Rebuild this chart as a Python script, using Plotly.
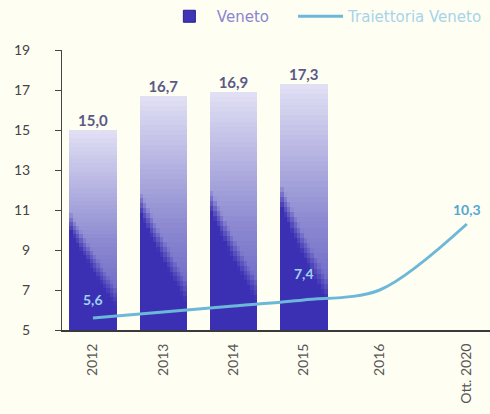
import plotly.graph_objects as go

# ---- data ----
years = ["2012", "2013", "2014", "2015", "2016", "Ott. 2020"]
veneto = [15.0, 16.7, 16.9, 17.3]            # bars (2012-2015)
traiettoria = [5.6, 5.9, 6.2, 6.5, 7.0, 10.3]  # trajectory line
traj_labels = ["5,6", "", "", "7,4", "", "10,3"]

# ---- layout helpers ----
slot = [0, 1, 2, 3, 4.08, 5.32]   # horizontal slot of each category
y_base = 5
bar_w = 0.67
n_strips = 14
n_levels = 48


def hex_rgb(h):
    h = h.lstrip("#")
    return tuple(int(h[i:i + 2], 16) for i in (0, 2, 4))


def mix(a, b, t):
    t = max(0.0, min(1.0, t))
    return tuple(a[i] + (b[i] - a[i]) * t for i in range(3))


DARK = hex_rgb("#3b30b3")
LOW = hex_rgb("#5a55c2")
MID = hex_rgb("#8e8bd2")
LIGHT = hex_rgb("#e2e1f4")


def shade(f, s):
    """Colour at height fraction f for vertical strip s of a bar."""
    u = (s + 0.5) / n_strips
    thr = 0.56 - 0.40 * u ** 0.9
    # general vertical gradient: bluish at the foot, pale lavender on top
    if f < 0.45:
        body = mix(LOW, MID, f / 0.45)
    else:
        body = mix(MID, LIGHT, (f - 0.45) / 0.55)
    # darker wave in the lower left of each bar
    return "rgb(%d,%d,%d)" % mix(DARK, body, (f - thr) / 0.10 + 0.5)


fig = go.Figure()

# gradient-filled bars built from thin stacked slices
bx = slot[:len(veneto)]
for s in range(n_strips):
    off = -bar_w / 2 + s * bar_w / n_strips
    for k in range(n_levels):
        f0 = k / n_levels
        f1 = (k + 1) / n_levels
        bases = [y_base + (v - y_base) * f0 for v in veneto]
        heights = [(v - y_base) * (f1 - f0) * 1.03 for v in veneto]
        fig.add_trace(go.Bar(
            x=bx, y=heights, base=bases,
            width=bar_w / n_strips * 1.08, offset=off,
            marker=dict(color=shade((f0 + f1) / 2, s), line=dict(width=0)),
            showlegend=False, hoverinfo="skip",
        ))

# legend entry for the bars
fig.add_trace(go.Bar(
    x=[None], y=[None],
    name="<span style='color:#8a86d0'>Veneto</span>&nbsp;&nbsp;&nbsp;&nbsp;",
    marker=dict(color="#3f35b5", line=dict(color="#2a2290", width=1)),
))

# bar value labels
fig.add_trace(go.Scatter(
    x=bx, y=veneto, mode="text",
    text=[f"{v:.1f}".replace(".", ",") for v in veneto],
    textposition="top center",
    textfont=dict(family="Lato", size=15, color="#5a5a86", weight="bold"),
    showlegend=False, hoverinfo="skip",
))

# trajectory line
fig.add_trace(go.Scatter(
    x=slot, y=traiettoria, mode="lines",
    line=dict(color="#6cb8d8", width=3, shape="spline", smoothing=0.9),
    name="<span style='color:#a6d4ea'>Traiettoria Veneto</span>",
))

# trajectory labels
label_col = ["#9fd3f0", "", "", "#9fd3f0", "", "#52a8d2"]
label_dy = [0.95, 0, 0, 1.35, 0, 0.75]
for i, t in enumerate(traj_labels):
    if not t:
        continue
    fig.add_annotation(
        x=slot[i], y=traiettoria[i] + label_dy[i], text=t,
        showarrow=False, xanchor="center",
        font=dict(family="Lato", size=14, color=label_col[i], weight="bold"),
    )

fig.update_layout(
    width=490, height=414,
    margin=dict(l=62, r=0, t=33, b=84),
    paper_bgcolor="#fffef3", plot_bgcolor="#fffef3",
    barmode="overlay", bargap=0,
    font=dict(family="Lato", size=14, color="#444"),
    legend=dict(orientation="h", x=0.995, xanchor="right", y=1.12, yanchor="middle",
                font=dict(family="DejaVu Sans", size=15),
                bgcolor="rgba(0,0,0,0)",
                itemwidth=45, traceorder="normal"),
    showlegend=True,
)
fig.update_xaxes(
    range=[-0.44, 5.65], tickmode="array", tickvals=slot, ticktext=years,
    tickangle=-90, tickfont=dict(size=14, color="#555"),
    showgrid=False, zeroline=False, ticklabelstandoff=6,
    showline=True, linecolor="#3a3a3a", linewidth=2, ticks="",
)
fig.update_yaxes(
    range=[5, 19], tickvals=[5, 7, 9, 11, 13, 15, 17, 19],
    tickfont=dict(size=14, color="#444"),
    showgrid=False, zeroline=False,
    showline=True, linecolor="#444", linewidth=1,
    ticks="outside", ticklen=6, tickcolor="#444", ticklabelstandoff=22,
)

fig.write_html("out.html")
